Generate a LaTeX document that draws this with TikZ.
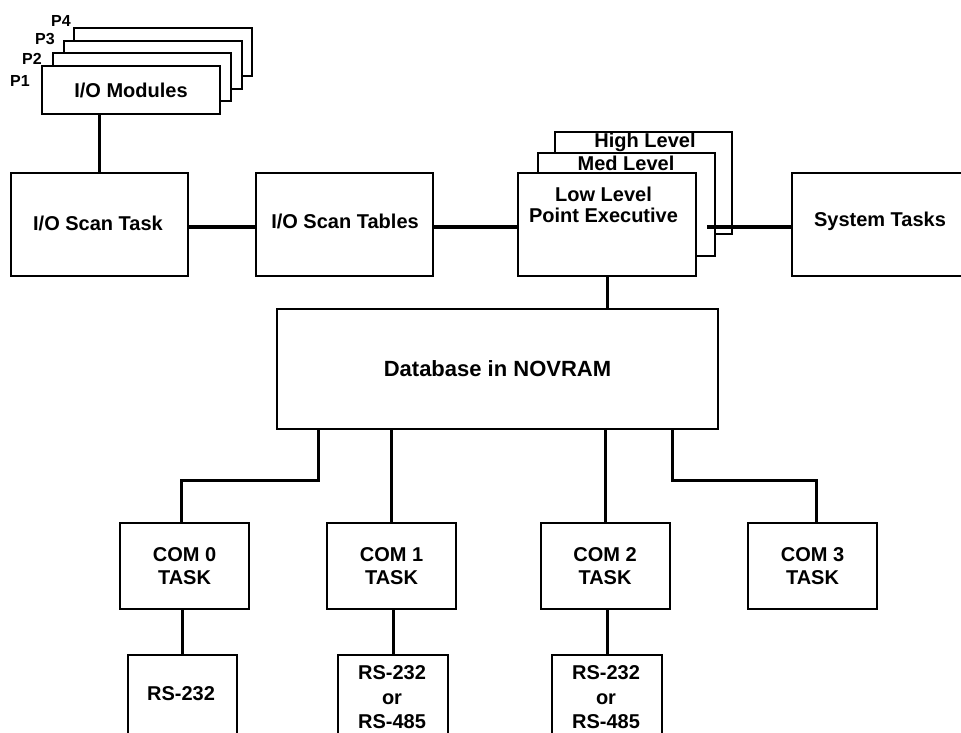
\documentclass[tikz,border=0pt]{standalone}
\usepackage{fontspec}
\setmainfont{Liberation Sans}
\begin{document}
\begin{tikzpicture}[x=1pt,y=-1pt]
\tikzset{
 box/.style={draw, line width=2pt, fill=white, inner sep=0pt, font=\fontsize{20}{23}\selectfont\bfseries, align=center},
 txt/.style={inner sep=0pt, font=\fontsize{20}{21}\selectfont\bfseries, align=center},
 rstxt/.style={inner sep=0pt, font=\fontsize{20}{24.5}\selectfont\bfseries, align=center},
 ptxt/.style={inner sep=0pt, font=\fontsize{16}{18}\selectfont\bfseries},
 conn/.style={line width=3pt},
 bus/.style={line width=4pt},
 modbox/.style={box, minimum width=178pt, minimum height=48pt},
 bigbox/.style={box, minimum width=177pt, minimum height=103pt},
 combox/.style={box, minimum width=129pt, minimum height=86pt},
 rsbox/.style={box, minimum width=110pt, minimum height=125pt},
}
\useasboundingbox (0,0) rectangle (961,732);
\clip (0,0) rectangle (961,732);
\fill[white] (0,0) rectangle (961,732);

% I/O modules stack
\node[modbox] (m4) at (163,51.5) {};
\node[modbox] (m3) at (153,64.5) {};
\node[modbox] (m2) at (142,77) {};
\node[modbox] (mod) at (131,90) {I/O Modules};
\node[ptxt] (p1) at (20,81) {P1};
\node[ptxt] (p2) at (32,59) {P2};
\node[ptxt] (p3) at (45,39) {P3};
\node[ptxt] (p4) at (61,20.5) {P4};

% top row
\node[bigbox] (task) at (99.5,224.5) {};
\node[txt] (tasktxt) at (98,223) {I/O Scan Task};
\node[bigbox] (tables) at (344.5,224.5) {};
\node[txt] (tablestxt) at (345,221) {I/O Scan Tables};
\node[bigbox, minimum height=102pt] (high) at (643.5,183) {};
\node[bigbox] (med) at (626.5,204.5) {};
\node[bigbox, minimum width=178pt] (low) at (607,224.5) {};
\node[txt] (hightxt) at (645,142.5) {High Level};
\node[txt] (medtxt) at (626,163) {Med Level};
\node[txt] (lowtxt) at (603.5,204.5) {Low Level\\Point Executive};
\node[bigbox, minimum width=176pt] (sys) at (880,224.5) {};
\node[txt] (systxt) at (880,221.5) {System Tasks};

% database
\node[box, minimum width=441pt, minimum height=120pt, font=\fontsize{22}{24}\selectfont\bfseries] (db) at (497.5,369) {Database in NOVRAM};

% COM tasks
\node[combox] (com0) at (184.5,566) {COM 0\\TASK};
\node[combox] (com1) at (391.5,566) {COM 1\\TASK};
\node[combox] (com2) at (605,566) {COM 2\\TASK};
\node[combox] (com3) at (812.5,566) {COM 3\\TASK};

% RS boxes
\node[rsbox, minimum width=109pt] (rs0) at (182.5,717.5) {};
\node[rsbox] (rs1) at (393,717.5) {};
\node[rsbox] (rs2) at (607,717.5) {};
\node[rstxt] (rs0txt) at (181,694) {RS-232};
\node[rstxt] (rs1txt) at (392,697.5) {RS-232\\or\\RS-485};
\node[rstxt] (rs2txt) at (606,697.5) {RS-232\\or\\RS-485};

% connectors
\draw[conn] (task.north |- mod.south) -- (task.north);
\draw[bus] ([yshift=-2pt]task.east) -- ([yshift=-2pt]tables.west);
\draw[bus] ([yshift=-2pt]tables.east) -- ([yshift=-2pt]low.west);
\coordinate (sx) at (707,226.5);
\draw[bus] (sx) -- (sx -| sys.west);
\draw[conn] (low.south) -- (low.south |- db.north);
\draw[conn] ([xshift=-179.5pt]db.south) -- ++(0,50) -| ([xshift=-3.5pt]com0.north);
\draw[conn] (com1.north |- db.south) -- (com1.north);
\draw[conn] (com2.north |- db.south) -- (com2.north);
\draw[conn] ([xshift=174.5pt]db.south) -- ++(0,50) -| ([xshift=3.5pt]com3.north);
\draw[conn] (com0.south -| rs0.north) -- (rs0.north);
\draw[conn] (com1.south -| rs1.north) -- (rs1.north);
\draw[conn] (com2.south -| rs2.north) -- (rs2.north);
\end{tikzpicture}
\end{document}
